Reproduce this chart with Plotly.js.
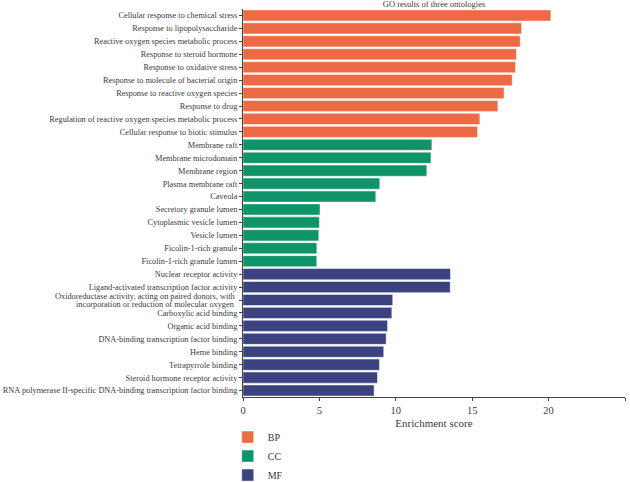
<!DOCTYPE html>
<html>
<head>
<meta charset="utf-8">
<script src="https://cdn.plot.ly/plotly-3.0.1.min.js"></script>
<style>html,body{margin:0;padding:0;background:#fff;}#chart{width:630px;height:482px;}</style>
</head>
<body>
<div id="chart"></div>
<script>
var bpTerms = [
  "Cellular response to chemical stress",
  "Response to lipopolysaccharide",
  "Reactive oxygen species metabolic process",
  "Response to steroid hormone",
  "Response to oxidative stress",
  "Response to molecule of bacterial origin",
  "Response to reactive oxygen species",
  "Response to drug",
  "Regulation of reactive oxygen species metabolic process",
  "Cellular response to biotic stimulus"
];
var bpScores = [20.15, 18.23, 18.14, 17.9, 17.84, 17.62, 17.09, 16.68, 15.5, 15.35];

var ccTerms = [
  "Membrane raft",
  "Membrane microdomain",
  "Membrane region",
  "Plasma membrane raft",
  "Caveola",
  "Secretory granule lumen",
  "Cytoplasmic vesicle lumen",
  "Vesicle lumen",
  "Ficolin-1-rich granule",
  "Ficolin-1-rich granule lumen"
];
var ccScores = [12.36, 12.3, 12.03, 8.95, 8.69, 5.04, 5.0, 4.96, 4.83, 4.83];

var mfTerms = [
  "Nuclear receptor activity",
  "Ligand-activated transcription factor activity",
  "Oxidoreductase activity, acting on paired donors, with incorporation or reduction of molecular oxygen",
  "Carboxylic acid binding",
  "Organic acid binding",
  "DNA-binding transcription factor binding",
  "Heme binding",
  "Tetrapyrrole binding",
  "Steroid hormone receptor activity",
  "RNA polymerase II-specific DNA-binding transcription factor binding"
];
var mfScores = [13.58, 13.56, 9.8, 9.74, 9.46, 9.37, 9.21, 8.93, 8.8, 8.58];

// the one long label is shown on two tight lines
var wrappedTerm = mfTerms[2];
var wrappedLines = [
  "Oxidoreductase activity, acting on paired donors, with",
  "incorporation or reduction of molecular oxygen"
];

var xTicks = [0, 5, 10, 15, 20, 25];

var font = "Liberation Serif, Times New Roman, serif";
var textColor = "#3a3a3a";
var tickSize = 8.3;

function trace(name, terms, scores, color) {
  return {
    type: "bar", orientation: "h", name: name,
    x: scores, y: terms,
    marker: {color: color, line: {color: "rgba(255,255,255,0.6)", width: 0.8}},
    hoverinfo: "x+y"
  };
}
var data = [
  trace("BP", bpTerms, bpScores, "#EC6B44"),
  trace("CC", ccTerms, ccScores, "#0E9468"),
  trace("MF", mfTerms, mfScores, "#3A437F")
];

var allTerms = bpTerms.concat(ccTerms, mfTerms);
var tickText = allTerms.map(function (t) { return t === wrappedTerm ? " " : t; });

var annotations = wrappedLines.map(function (line, i) {
  return {
    text: line, xref: "paper", x: 0, yref: "y", y: wrappedTerm,
    xanchor: "right", yanchor: "middle", xshift: -6, yshift: i === 0 ? 4 : -4,
    showarrow: false, font: {family: font, size: tickSize, color: textColor}
  };
});

var layout = {
  width: 630, height: 482,
  margin: {l: 243, r: 5, t: 8.5, b: 84.5, autoexpand: false},
  paper_bgcolor: "#fff", plot_bgcolor: "#fff",
  font: {family: font, size: 9.5, color: textColor},
  title: {text: "GO results of three ontologies", font: {family: font, size: 8.5, color: textColor},
          x: 0.5, xref: "paper", y: 0.998, yref: "container", yanchor: "top"},
  bargap: 0.14,
  barmode: "overlay",
  xaxis: {
    range: [0, 25], tickvals: xTicks, ticktext: xTicks.map(String),
    showgrid: false, zeroline: false, showline: true, linecolor: "#444", linewidth: 1,
    ticks: "outside", ticklen: 3, tickcolor: "#444",
    tickfont: {family: font, size: 10.5, color: textColor},
    title: {text: "Enrichment score", font: {family: font, size: 11, color: textColor}, standoff: 4}
  },
  yaxis: {
    type: "category",
    categoryorder: "array",
    categoryarray: allTerms,
    tickvals: allTerms,
    ticktext: tickText,
    autorange: "reversed",
    showgrid: false, zeroline: false, showline: true, linecolor: "#444", linewidth: 1,
    ticks: "outside", ticklen: 3, tickcolor: "#444",
    tickfont: {family: font, size: tickSize, color: textColor}
  },
  annotations: annotations,
  showlegend: true,
  legend: {
    x: -0.04, xanchor: "left", y: -0.066, yanchor: "top",
    orientation: "v", traceorder: "normal",
    font: {family: font, size: 10, color: textColor},
    itemwidth: 30, tracegroupgap: 0, bgcolor: "rgba(0,0,0,0)"
  }
};
Plotly.newPlot("chart", data, layout, {displayModeBar: false, staticPlot: true});
</script>
</body>
</html>
